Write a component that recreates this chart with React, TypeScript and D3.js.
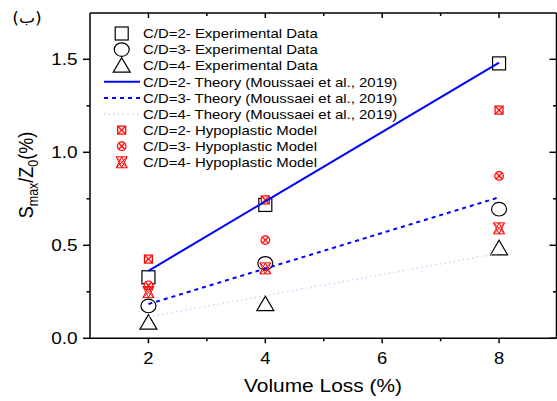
import React from "react";
import * as d3 from "d3";

const volumeLoss = [2, 4, 8];
const expCD2 = [0.328, 0.717, 1.478];
const expCD3 = [0.174, 0.403, 0.694];
const expCD4 = [0.084, 0.184, 0.484];
const theoryCD2 = [0.363, 0.736, 1.482];
const theoryCD3 = [0.184, 0.375, 0.758];
const theoryCD4 = [0.116, 0.23, 0.457];
const hypoCD2 = [0.426, 0.744, 1.227];
const hypoCD3 = [0.285, 0.528, 0.873];
const hypoCD4 = [0.248, 0.376, 0.591];
const xMajor = [2, 4, 6, 8];
const xMinor = [3, 5, 7];
const yMajor = [0, 0.5, 1.0, 1.5];
const yMinor = [0.25, 0.75, 1.25];
const legendLabels = [
  "C/D=2- Experimental Data",
  "C/D=3- Experimental Data",
  "C/D=4- Experimental Data",
  "C/D=2- Theory (Moussaei et al., 2019)",
  "C/D=3- Theory (Moussaei et al., 2019)",
  "C/D=4- Theory (Moussaei et al., 2019)",
  "C/D=2- Hypoplastic Model",
  "C/D=3- Hypoplastic Model",
  "C/D=4- Hypoplastic Model",
];

const FONT = "'Liberation Sans', Arial, sans-serif";
const SX = 1.15;

function Square({ x, y }: { x: number; y: number }) {
  return <rect x={x - 6.5} y={y - 6.5} width={13} height={13} fill="none" stroke="#000" strokeWidth={1.2} />;
}
function Circle({ x, y }: { x: number; y: number }) {
  return <ellipse cx={x} cy={y} rx={7.5} ry={6.8} fill="none" stroke="#000" strokeWidth={1.2} />;
}
function Tri({ x, y }: { x: number; y: number }) {
  return <path d={`M${x - 8.5},${y + 6.5}L${x + 8.5},${y + 6.5}L${x},${y - 8}Z`} fill="none" stroke="#000" strokeWidth={1.2} />;
}
const RED = "#ff0000";
function RSquare({ x, y }: { x: number; y: number }) {
  const s = 4;
  return (
    <g stroke={RED} strokeWidth={1.2} fill="#ffe0e0">
      <rect x={x - s} y={y - s} width={2 * s} height={2 * s} />
      <path d={`M${x - s},${y - s}L${x + s},${y + s}M${x + s},${y - s}L${x - s},${y + s}`} />
    </g>
  );
}
function RCircle({ x, y }: { x: number; y: number }) {
  const r = 4.3;
  const d = r * 0.707;
  return (
    <g stroke={RED} strokeWidth={1.2} fill="#ffe0e0">
      <circle cx={x} cy={y} r={r} />
      <path d={`M${x - d},${y - d}L${x + d},${y + d}M${x + d},${y - d}L${x - d},${y + d}`} />
    </g>
  );
}
function RStar({ x, y }: { x: number; y: number }) {
  const s = 5.5;
  return (
    <g stroke={RED} strokeWidth={1} fill="none">
      <path d={`M${x - s},${y + s}L${x + s},${y + s}L${x},${y - s}Z`} />
      <path d={`M${x - s},${y - s}L${x + s},${y - s}L${x},${y + s}Z`} />
      <path d={`M${x - s},${y - s}L${x + s},${y + s}M${x + s},${y - s}L${x - s},${y + s}`} />
    </g>
  );
}

export default function App() {
  const W = 557, H = 401;
  const x = d3.scaleLinear().domain([1, 9]).range([90, 557.5]);
  const y = d3.scaleLinear().domain([0, 1.75]).range([338.3, 12.8]);
  const L = 90, R = 556.5, T = 13, B = 338.3;
  const line = (vals: number[]) =>
    d3.line<number>().x((_, i) => x(volumeLoss[i])).y((v) => y(v))(vals) || "";

  const markerSets: [number[], (p: { x: number; y: number }) => React.ReactElement][] = [
    [expCD2, Square], [expCD3, Circle], [expCD4, Tri],
    [hypoCD2, RSquare], [hypoCD3, RCircle], [hypoCD4, RStar],
  ];

  const legY = (i: number) => 33.5 + 16.1 * i;
  const legSymX = 121.7;

  return (
    <svg width={W} height={H} style={{ position: "absolute", left: 0, top: 0, background: "#fff" }} fontFamily={FONT}>
      <rect width={W} height={H} fill="#fff" />
      {/* axes frame */}
      <g stroke="#000" strokeWidth={1.5} fill="none">
        <line x1={L} y1={B} x2={R} y2={B} />
        <line x1={L} y1={T} x2={R} y2={T} />
        <line x1={L} y1={T} x2={L} y2={B} />
        <line x1={R} y1={T} x2={R} y2={B} />
        {xMajor.map((v) => (
          <g key={"xm" + v}>
            <line x1={x(v)} x2={x(v)} y1={B} y2={B + 5} />
            <line x1={x(v)} x2={x(v)} y1={T} y2={T + 5} />
          </g>
        ))}
        {xMinor.map((v) => (
          <g key={"xn" + v}>
            <line x1={x(v)} x2={x(v)} y1={B} y2={B + 3} />
            <line x1={x(v)} x2={x(v)} y1={T} y2={T + 3} />
          </g>
        ))}
        {yMajor.map((v) => (
          <g key={"ym" + v}>
            <line x1={L - 7} x2={L} y1={y(v)} y2={y(v)} />
            <line x1={R - 7} x2={R} y1={y(v)} y2={y(v)} />
          </g>
        ))}
        {yMinor.map((v) => (
          <g key={"yn" + v}>
            <line x1={L - 3.5} x2={L} y1={y(v)} y2={y(v)} />
            <line x1={R - 3.5} x2={R} y1={y(v)} y2={y(v)} />
          </g>
        ))}
      </g>
      {/* tick labels */}
      {xMajor.map((v) => (
        <text key={"xl" + v} transform={`translate(${x(v)},${363.5}) scale(${SX},1)`} textAnchor="middle" fontSize={16}>
          {v}
        </text>
      ))}
      {yMajor.map((v) => (
        <text key={"yl" + v} transform={`translate(${77.5},${y(v) + 6}) scale(${SX},1)`} textAnchor="end" fontSize={16.5}>
          {v.toFixed(1)}
        </text>
      ))}
      {/* axis titles */}
      <text transform={`translate(${323},${392}) scale(1.1,1)`} textAnchor="middle" fontSize={19}>
        Volume Loss (%)
      </text>
      <text transform={`translate(${33},${175}) scale(${SX},1) rotate(-90)`} textAnchor="middle" fontSize={18}>
        S<tspan fontSize={12.5} dy={4}>max</tspan>
        <tspan dy={-4}>/Z</tspan>
        <tspan fontSize={12.5} dy={4}>0</tspan>
        <tspan dy={-4}>(%)</tspan>
      </text>
      <text transform={`translate(${27},${23}) scale(${SX},1)`} textAnchor="middle" fontSize={15} fontFamily="'DejaVu Sans', sans-serif">
        (ب)
      </text>
      {/* markers */}
      {markerSets.map(([vals, M], k) => (
        <g key={"ms" + k}>
          {vals.map((v, i) => (
            <M key={i} x={x(volumeLoss[i])} y={y(v)} />
          ))}
        </g>
      ))}
      {/* theory lines */}
      <path d={line(theoryCD2)} stroke="#0000ff" strokeWidth={2} fill="none" />
      <path d={line(theoryCD3)} stroke="#0000ff" strokeWidth={2} strokeDasharray="4,4" fill="none" />
      <path d={line(theoryCD4)} stroke="#c8c8ff" strokeWidth={1.5} strokeDasharray="1.2,3.5" fill="none" />
      {/* legend */}
      <Square x={legSymX} y={legY(0)} />
      <Circle x={legSymX} y={legY(1)} />
      <Tri x={legSymX} y={legY(2)} />
      <line x1={104} x2={140} y1={legY(3)} y2={legY(3)} stroke="#0000ff" strokeWidth={2} />
      <line x1={104} x2={140} y1={legY(4)} y2={legY(4)} stroke="#0000ff" strokeWidth={2} strokeDasharray="4,4" />
      <line x1={104} x2={140} y1={legY(5)} y2={legY(5)} stroke="#c8c8ff" strokeWidth={1.5} strokeDasharray="1.2,3.5" />
      <RSquare x={legSymX} y={legY(6)} />
      <RCircle x={legSymX} y={legY(7)} />
      <RStar x={legSymX} y={legY(8)} />
      {legendLabels.map((t, i) => (
        <text key={"lg" + i} transform={`translate(${143},${legY(i) + 4.7}) scale(${SX},1)`} fontSize={13}>
          {t}
        </text>
      ))}
    </svg>
  );
}
